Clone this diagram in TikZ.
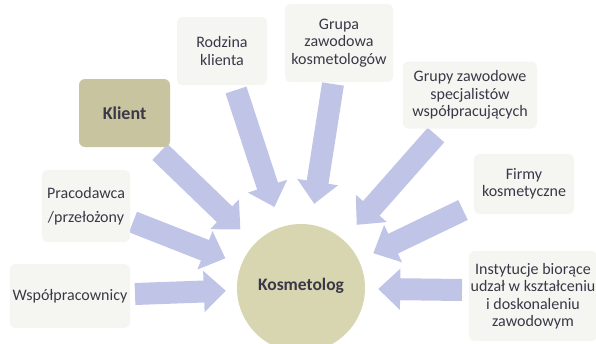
\documentclass[tikz,border=0pt]{standalone}
\usepackage{fontspec}
\setmainfont{Carlito}
\usetikzlibrary{arrows.meta,backgrounds}
\definecolor{arrowc}{RGB}{192,197,232}
\definecolor{boxc}{RGB}{245,246,241}
\definecolor{klientc}{RGB}{201,196,160}
\definecolor{kosmc}{RGB}{216,213,177}
\definecolor{txtc}{RGB}{58,56,72}
\begin{document}
\begin{tikzpicture}[x=1pt,y=-1pt,
  lbox/.style={fill=boxc, rounded corners=5pt, align=center, text=txtc,
    font=\fontsize{16}{17.5}\selectfont, inner sep=0pt},
  bigarrow/.style={draw=arrowc, line width=22pt,
    -{Triangle[width=40pt,length=22pt]}}]
\useasboundingbox (0,0) rectangle (596,343);
% central circle
\node[circle, fill=kosmc, minimum size=128pt, inner sep=0pt, text=txtc,
  font=\fontsize{17.5}{20}\selectfont\bfseries] (kosm) at (301,288)
  {\raisebox{8pt}{Kosmetolog}};
% boxes
\node[fill=klientc, rounded corners=6pt, minimum width=91pt, minimum height=68pt,
  inner sep=0pt, text=txtc, font=\fontsize{18}{20}\selectfont\bfseries]
  (klient) at (124.5,113) {Klient};
\node[lbox, minimum width=90pt, minimum height=68pt] (rodz) at (222,51)
  {Rodzina\\klienta};
\node[lbox, minimum width=108pt, minimum height=78pt] (grupa) at (339,43)
  {Grupa\\zawodowa\\kosmetologów};
\node[lbox, minimum width=134pt, minimum height=67pt] (spec) at (470,95)
  {Grupy zawodowe\\specjalistów\\współpracujących};
\node[lbox, minimum width=100pt, minimum height=60pt] (firmy) at (524,184)
  {Firmy\\kosmetyczne};
\node[lbox, minimum width=128pt, minimum height=90pt] (inst) at (533,296)
  {Instytucje biorące\\udzał w kształceniu\\i doskonaleniu\\zawodowym};
\node[lbox, minimum width=88pt, minimum height=72pt] (prac) at (86,206)
  {Pracodawca\\[7pt]/przełożony};
\node[lbox, minimum width=120pt, minimum height=64pt] (wsp) at (70,296)
  {Współpracownicy};
% arrow tails
\coordinate (tK) at (160,152);
\coordinate (tR) at (236,90);
\coordinate (tG) at (333,84);
\coordinate (tS) at (436,135);
\coordinate (tF) at (463,210);
\coordinate (tI) at (462,290);
\coordinate (tP) at (133,222);
\coordinate (tW) at (135,294);
\begin{scope}[on background layer]
\draw[bigarrow, shorten >=20pt] (tK) -- (kosm);
\draw[bigarrow, shorten >=21pt] (tR) -- (kosm);
\draw[bigarrow, shorten >=21pt] (tG) -- (kosm);
\draw[bigarrow, shorten >=20pt] (tS) -- (kosm);
\draw[bigarrow, shorten >=16pt] (tF) -- (kosm);
\draw[bigarrow, shorten >=13pt] (tI) -- (kosm);
\draw[bigarrow, shorten >=17pt] (tP) -- (kosm);
\draw[bigarrow, shorten >=11pt] (tW) -- (kosm);
\end{scope}
\end{tikzpicture}
\end{document}
